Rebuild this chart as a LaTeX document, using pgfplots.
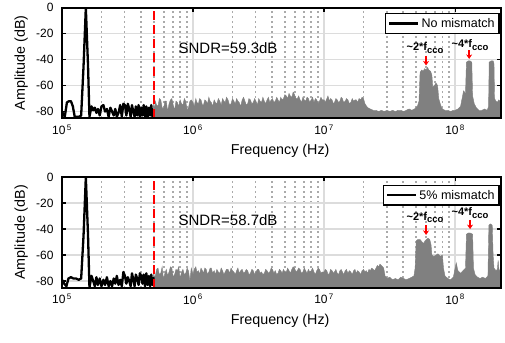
\documentclass[border=0pt]{standalone}
\usepackage{pgfplots}
\pgfplotsset{compat=1.18}
\usepackage{fontspec}
\setmainfont{Liberation Sans}
\usetikzlibrary{arrows.meta}
\definecolor{gridmaj}{RGB}{220,220,220}
\definecolor{gridmin}{RGB}{170,170,170}
\definecolor{areagray}{RGB}{128,128,128}
\newcommand{\fcco}[1]{\textasciitilde#1*f\raisebox{-0.45ex}{\fontsize{9.5}{10}\selectfont cco}}
\begin{document}
\begin{tikzpicture}
% ---------------- top: no mismatch ----------------
\begin{axis}[at={(62pt,224pt)}, anchor=south west,
    scale only axis, width=439pt, height=110.5pt,
    xmode=log, xmin=1e5, xmax=2.24e8,
    ymin=-85, ymax=0,
    xtick={1e5,1e6,1e7,1e8},
    xticklabels={10\textsuperscript{\,5},10\textsuperscript{\,6},10\textsuperscript{\,7},10\textsuperscript{\,8}},
    ytick={-80,-60,-40,-20,0},
    yticklabels={-80,-60,-40,-20,0},
    tick align=inside, tick pos=both,
    major tick length=4pt, minor tick length=0pt,
    tick style={black, line width=1.2pt},
    axis line style={black, line width=2pt},
    xmajorgrids, ymajorgrids, xminorgrids,
    major grid style={gridmaj, line width=1.6pt},
    minor grid style={gridmin, line width=1.8pt, dash pattern=on 1.8pt off 3.2pt},
    tick label style={font=\fontsize{12}{13}\selectfont},
    yticklabel style={xshift=-5pt},
    xticklabel style={yshift=-3pt},
    xlabel={Frequency (Hz)}, ylabel={Amplitude (dB)},
    label style={font=\fontsize{14.3}{16}\selectfont},
    xlabel style={at={(axis description cs:0.497,-0.297)}, anchor=center},
    ylabel style={at={(axis description cs:-0.093,0.5)}, anchor=center},
    legend style={at={(rel axis cs:0.997,0.95)}, anchor=north east, draw=black, line width=1.4pt,
      font=\fontsize{12.5}{14}\selectfont, inner sep=2.5pt},
    legend image code/.code={\draw[black, line width=2.4pt] (0pt,0pt) -- (29pt,0pt);},
    after end axis/.code={\draw[black, line width=2pt] (rel axis cs:0,0) rectangle (rel axis cs:1,1);},
  ]
\addplot[draw=areagray, line width=0.4pt, fill=areagray, forget plot] coordinates {
(5.00e5,-85) (5.00e5,-74) (5.07e5,-79) (5.15e5,-72) (5.27e5,-75) (5.40e5,-76) (5.53e5,-70) (5.67e5,-71) (5.81e5,-77) (5.95e5,-78) (6.10e5,-72) (6.25e5,-72) (6.40e5,-80) (6.56e5,-74) (6.72e5,-71) (6.89e5,-70) (7.06e5,-75) (7.23e5,-79) (7.41e5,-72) (7.59e5,-73) (7.78e5,-76) (7.97e5,-71) (8.17e5,-74) (8.37e5,-75) (8.58e5,-70) (8.79e5,-72) (9.01e5,-79) (9.23e5,-77) (9.46e5,-72) (9.69e5,-71)
(1.00e6,-73) (1.02e6,-76) (1.05e6,-70) (1.07e6,-73) (1.10e6,-74) (1.12e6,-70) (1.15e6,-71) (1.18e6,-75) (1.20e6,-75) (1.23e6,-71) (1.26e6,-72) (1.29e6,-74) (1.32e6,-69) (1.35e6,-72) (1.38e6,-73) (1.41e6,-76) (1.45e6,-71) (1.48e6,-73) (1.52e6,-74) (1.56e6,-70) (1.60e6,-72) (1.64e6,-75) (1.68e6,-70) (1.72e6,-72) (1.76e6,-73) (1.80e6,-69) (1.85e6,-71) (1.90e6,-75) (1.95e6,-74) (2.00e6,-70) (2.05e6,-72) (2.10e6,-74) (2.15e6,-70) (2.20e6,-72) (2.25e6,-73) (2.31e6,-76) (2.37e6,-71) (2.43e6,-69) (2.49e6,-72) (2.55e6,-75) (2.61e6,-74) (2.67e6,-70) (2.74e6,-71) (2.81e6,-74) (2.88e6,-73) (2.95e6,-70) (3.02e6,-72) (3.10e6,-75) (3.17e6,-70) (3.25e6,-72) (3.33e6,-73) (3.41e6,-69) (3.50e6,-72) (3.58e6,-74) (3.67e6,-71) (3.76e6,-69) (3.85e6,-73) (3.95e6,-71) (4.04e6,-70) (4.14e6,-73) (4.24e6,-72) (4.35e6,-69) (4.45e6,-71) (4.56e6,-73) (4.67e6,-69) (4.78e6,-71) (4.90e6,-70) (5.02e6,-67) (5.15e6,-68) (5.27e6,-70) (5.40e6,-66) (5.53e6,-68) (5.67e6,-69) (5.81e6,-65) (5.95e6,-67) (6.10e6,-70) (6.25e6,-70) (6.40e6,-68) (6.56e6,-71) (6.72e6,-73) (6.89e6,-69) (7.06e6,-71) (7.23e6,-72) (7.41e6,-69) (7.59e6,-70) (7.78e6,-73) (7.97e6,-71) (8.17e6,-69) (8.37e6,-73) (8.58e6,-70) (8.79e6,-71) (9.01e6,-74) (9.23e6,-72) (9.46e6,-69) (9.69e6,-71)
(1.00e7,-71) (1.02e7,-73) (1.05e7,-70) (1.07e7,-68) (1.10e7,-72) (1.12e7,-70) (1.15e7,-71) (1.18e7,-74) (1.20e7,-73) (1.23e7,-70) (1.26e7,-71) (1.29e7,-73) (1.32e7,-72) (1.35e7,-69) (1.38e7,-70) (1.41e7,-73) (1.45e7,-72) (1.48e7,-70) (1.52e7,-71) (1.56e7,-74) (1.60e7,-73) (1.64e7,-70) (1.68e7,-72) (1.72e7,-71) (1.76e7,-71) (1.80e7,-73) (1.85e7,-70) (1.90e7,-71) (1.95e7,-69) (2.00e7,-70) (2.05e7,-74) (2.15e7,-77) (2.25e7,-78) (2.37e7,-79) (2.49e7,-79) (2.61e7,-80) (2.74e7,-79) (2.88e7,-80) (3.02e7,-79) (3.17e7,-80) (3.33e7,-79) (3.50e7,-80) (3.67e7,-79) (3.85e7,-79) (4.04e7,-80) (4.24e7,-79) (4.45e7,-78) (4.67e7,-79) (4.90e7,-78) (5.15e7,-76) (5.30e7,-72)
(5.40e7,-50) (5.55e7,-48) (5.70e7,-49) (5.85e7,-47) (6.00e7,-48) (6.15e7,-46) (6.30e7,-48) (6.50e7,-49) (6.65e7,-52) (6.75e7,-61) (6.95e7,-60) (7.15e7,-58) (7.35e7,-60) (7.50e7,-70) (7.75e7,-75) (8.00e7,-78) (8.37e7,-79) (8.79e7,-79) (9.23e7,-80) (9.69e7,-79)
(1.00e8,-79) (1.05e8,-78) (1.10e8,-76) (1.13e8,-70) (1.16e8,-64) (1.20e8,-66) (1.22e8,-42) (1.26e8,-41) (1.30e8,-41) (1.34e8,-42) (1.36e8,-68) (1.40e8,-74) (1.45e8,-77) (1.52e8,-79) (1.60e8,-79) (1.68e8,-78) (1.76e8,-79) (1.80e8,-76) (1.82e8,-42) (1.88e8,-41) (1.95e8,-41) (1.98e8,-43) (2.00e8,-70) (2.05e8,-72) (2.10e8,-73) (2.15e8,-71) (2.20e8,-72) (2.24e8,-72) (2.24e8,-85)
};
\addplot[black, line width=2.3pt, line join=round] coordinates {
(1.00e5,-80) (1.05e5,-84) (1.09e5,-73) (1.13e5,-72) (1.17e5,-72) (1.21e5,-76) (1.25e5,-84) (1.30e5,-84) (1.35e5,-84) (1.40e5,-83) (1.46e5,-45) (1.52e5,0) (1.58e5,-45) (1.62e5,-84) (1.68e5,-76) (1.73e5,-79) (1.78e5,-77) (1.83e5,-81) (1.88e5,-78) (1.94e5,-83) (2.00e5,-76) (2.07e5,-75) (2.13e5,-80) (2.20e5,-78) (2.27e5,-84) (2.34e5,-77) (2.41e5,-80) (2.48e5,-83) (2.55e5,-78) (2.62e5,-84) (2.70e5,-81) (2.78e5,-75) (2.86e5,-84) (2.94e5,-74) (3.02e5,-75) (3.10e5,-83) (3.18e5,-74) (3.26e5,-78) (3.34e5,-84) (3.42e5,-75) (3.50e5,-80) (3.58e5,-84) (3.66e5,-76) (3.75e5,-83) (3.84e5,-75) (3.93e5,-84) (4.02e5,-77) (4.11e5,-83) (4.20e5,-75) (4.30e5,-84) (4.40e5,-76) (4.50e5,-84) (4.60e5,-77) (4.70e5,-83) (4.80e5,-75) (4.90e5,-84) (5.00e5,-78)
};
\addlegendentry{No mismatch}
\addplot[red, line width=2pt, dash pattern=on 9pt off 5pt, forget plot] coordinates {(5e5,-85) (5e5,0)};
\node[anchor=west, font=\fontsize{15}{17}\selectfont] at (axis cs:7.3e5,-31) {SNDR=59.3dB};
\node[font=\bfseries\fontsize{11}{12}\selectfont] at (axis cs:5.9e7,-31) {\fcco{2}};
\node[font=\bfseries\fontsize{11}{12}\selectfont] at (axis cs:1.30e8,-29) {\fcco{4}};
\draw[red, line width=1.4pt, -{Stealth[length=4.5pt,width=6pt]}] (axis cs:6.0e7,-37) -- (axis cs:6.0e7,-44.5);
\draw[red, line width=1.4pt, -{Stealth[length=4.5pt,width=6pt]}] (axis cs:1.28e8,-33) -- (axis cs:1.28e8,-39.5);
\end{axis}
% ---------------- bottom: 5% mismatch ----------------
\begin{axis}[at={(62pt,54.5pt)}, anchor=south west,
    scale only axis, width=439pt, height=110.5pt,
    xmode=log, xmin=1e5, xmax=2.24e8,
    ymin=-85, ymax=0,
    xtick={1e5,1e6,1e7,1e8},
    xticklabels={10\textsuperscript{\,5},10\textsuperscript{\,6},10\textsuperscript{\,7},10\textsuperscript{\,8}},
    ytick={-80,-60,-40,-20,0},
    yticklabels={-80,-60,-40,-20,0},
    tick align=inside, tick pos=both,
    major tick length=4pt, minor tick length=0pt,
    tick style={black, line width=1.2pt},
    axis line style={black, line width=2pt},
    xmajorgrids, ymajorgrids, xminorgrids,
    major grid style={gridmaj, line width=1.6pt},
    minor grid style={gridmin, line width=1.8pt, dash pattern=on 1.8pt off 3.2pt},
    tick label style={font=\fontsize{12}{13}\selectfont},
    yticklabel style={xshift=-5pt},
    xticklabel style={yshift=-3pt},
    xlabel={Frequency (Hz)}, ylabel={Amplitude (dB)},
    label style={font=\fontsize{14.3}{16}\selectfont},
    xlabel style={at={(axis description cs:0.497,-0.297)}, anchor=center},
    ylabel style={at={(axis description cs:-0.093,0.5)}, anchor=center},
    legend style={at={(rel axis cs:0.997,0.93)}, anchor=north east, draw=black, line width=1.4pt,
      font=\fontsize{12.5}{14}\selectfont, inner sep=2.5pt},
    legend image code/.code={\draw[black, line width=2.4pt] (0pt,0pt) -- (29pt,0pt);},
    after end axis/.code={\draw[black, line width=2pt] (rel axis cs:0,0) rectangle (rel axis cs:1,1);},
  ]
\addplot[draw=areagray, line width=0.4pt, fill=areagray, forget plot] coordinates {
(5.00e5,-85) (5.00e5,-72) (5.07e5,-77) (5.15e5,-76) (5.27e5,-71) (5.40e5,-70) (5.53e5,-75) (5.67e5,-74) (5.81e5,-69) (5.95e5,-79) (6.10e5,-74) (6.25e5,-71) (6.40e5,-76) (6.56e5,-73) (6.72e5,-69) (6.89e5,-70) (7.06e5,-77) (7.23e5,-75) (7.41e5,-71) (7.59e5,-72) (7.78e5,-69) (7.97e5,-78) (8.17e5,-73) (8.37e5,-71) (8.58e5,-75) (8.79e5,-74) (9.01e5,-70) (9.23e5,-72) (9.46e5,-80) (9.69e5,-70)
(1.00e6,-75) (1.02e6,-71) (1.05e6,-69) (1.07e6,-73) (1.10e6,-72) (1.12e6,-75) (1.15e6,-70) (1.18e6,-72) (1.20e6,-74) (1.23e6,-70) (1.26e6,-71) (1.29e6,-75) (1.32e6,-73) (1.35e6,-70) (1.38e6,-70) (1.41e6,-74) (1.45e6,-72) (1.48e6,-75) (1.52e6,-71) (1.56e6,-73) (1.60e6,-74) (1.64e6,-70) (1.68e6,-72) (1.72e6,-75) (1.76e6,-73) (1.80e6,-71) (1.85e6,-71) (1.90e6,-74) (1.95e6,-70) (2.00e6,-72) (2.05e6,-73) (2.10e6,-75) (2.15e6,-72) (2.20e6,-70) (2.25e6,-74) (2.31e6,-72) (2.37e6,-71) (2.43e6,-74) (2.49e6,-73) (2.55e6,-71) (2.61e6,-72) (2.67e6,-75) (2.74e6,-74) (2.81e6,-71) (2.88e6,-72) (2.95e6,-75) (3.02e6,-73) (3.10e6,-71) (3.17e6,-71) (3.25e6,-74) (3.33e6,-73) (3.41e6,-75) (3.50e6,-74) (3.58e6,-71) (3.67e6,-72) (3.76e6,-74) (3.85e6,-73) (3.95e6,-70) (4.04e6,-71) (4.14e6,-74) (4.24e6,-72) (4.35e6,-75) (4.45e6,-74) (4.56e6,-71) (4.67e6,-72) (4.78e6,-74) (4.90e6,-71) (5.02e6,-73) (5.15e6,-73) (5.27e6,-70) (5.40e6,-72) (5.53e6,-74) (5.67e6,-71) (5.81e6,-69) (5.95e6,-70) (6.10e6,-73) (6.25e6,-72) (6.40e6,-70) (6.56e6,-71) (6.72e6,-74) (6.89e6,-73) (7.06e6,-70) (7.23e6,-72) (7.41e6,-74) (7.59e6,-71) (7.78e6,-73) (7.97e6,-72) (8.17e6,-70) (8.37e6,-73) (8.58e6,-75) (8.79e6,-72) (9.01e6,-70) (9.23e6,-71) (9.46e6,-74) (9.69e6,-73)
(1.00e7,-73) (1.02e7,-71) (1.05e7,-72) (1.07e7,-75) (1.10e7,-74) (1.12e7,-71) (1.15e7,-72) (1.18e7,-74) (1.20e7,-73) (1.23e7,-71) (1.26e7,-74) (1.29e7,-75) (1.32e7,-72) (1.35e7,-71) (1.38e7,-73) (1.41e7,-75) (1.45e7,-72) (1.48e7,-71) (1.52e7,-74) (1.56e7,-72) (1.60e7,-73) (1.64e7,-75) (1.68e7,-72) (1.72e7,-71) (1.76e7,-74) (1.80e7,-72) (1.85e7,-73) (1.90e7,-75) (1.95e7,-72) (2.00e7,-71) (2.05e7,-73) (2.10e7,-72) (2.15e7,-74) (2.20e7,-71) (2.25e7,-72) (2.31e7,-70) (2.37e7,-71) (2.43e7,-72) (2.49e7,-70) (2.55e7,-68) (2.61e7,-69) (2.67e7,-67) (2.74e7,-68) (2.80e7,-69) (2.85e7,-70) (2.92e7,-76) (3.02e7,-78) (3.17e7,-77) (3.33e7,-79) (3.50e7,-78) (3.67e7,-79) (3.85e7,-77) (4.04e7,-78) (4.24e7,-79) (4.45e7,-78) (4.67e7,-77) (4.85e7,-76) (4.95e7,-70)
(5.05e7,-49) (5.20e7,-48) (5.40e7,-48) (5.60e7,-50) (5.75e7,-51) (5.90e7,-49) (6.05e7,-48) (6.20e7,-47) (6.40e7,-48) (6.55e7,-52) (6.65e7,-60) (6.89e7,-61) (7.15e7,-60) (7.40e7,-59) (7.70e7,-61) (8.00e7,-60) (8.15e7,-70) (8.37e7,-76) (8.79e7,-78) (9.23e7,-79) (9.69e7,-77)
(1.00e8,-70) (1.02e8,-66) (1.05e8,-72) (1.10e8,-74) (1.15e8,-72) (1.20e8,-70) (1.22e8,-44) (1.26e8,-43) (1.30e8,-43) (1.36e8,-44) (1.38e8,-70) (1.42e8,-75) (1.48e8,-77) (1.55e8,-78) (1.62e8,-77) (1.70e8,-78) (1.78e8,-76) (1.81e8,-37) (1.86e8,-36) (1.92e8,-37) (1.95e8,-60) (1.98e8,-70) (2.05e8,-72) (2.10e8,-71) (2.13e8,-64) (2.16e8,-71) (2.20e8,-72) (2.24e8,-72) (2.24e8,-85)
};
\addplot[black, line width=2.3pt, line join=round] coordinates {
(1.00e5,-79) (1.04e5,-82) (1.08e5,-84) (1.12e5,-78) (1.17e5,-77) (1.22e5,-78) (1.28e5,-78) (1.34e5,-79) (1.40e5,-78) (1.46e5,-45) (1.52e5,0) (1.58e5,-45) (1.62e5,-85) (1.68e5,-76) (1.73e5,-80) (1.78e5,-84) (1.83e5,-77) (1.88e5,-83) (1.94e5,-78) (2.00e5,-84) (2.07e5,-79) (2.13e5,-83) (2.20e5,-77) (2.27e5,-84) (2.34e5,-80) (2.41e5,-84) (2.48e5,-78) (2.55e5,-82) (2.62e5,-76) (2.70e5,-83) (2.78e5,-79) (2.86e5,-84) (2.94e5,-73) (3.02e5,-76) (3.10e5,-82) (3.18e5,-77) (3.26e5,-80) (3.34e5,-84) (3.42e5,-74) (3.50e5,-79) (3.58e5,-84) (3.66e5,-75) (3.75e5,-78) (3.84e5,-83) (3.93e5,-74) (4.02e5,-76) (4.11e5,-82) (4.20e5,-75) (4.30e5,-84) (4.40e5,-74) (4.50e5,-83) (4.60e5,-76) (4.70e5,-84) (4.80e5,-75) (4.90e5,-83) (5.00e5,-77)
};
\addlegendentry{5\% mismatch}
\addplot[red, line width=2pt, dash pattern=on 9pt off 5pt, forget plot] coordinates {(5e5,-85) (5e5,0)};
\node[anchor=west, font=\fontsize{15}{17}\selectfont] at (axis cs:7.3e5,-33) {SNDR=58.7dB};
\node[font=\bfseries\fontsize{11}{12}\selectfont] at (axis cs:5.9e7,-31) {\fcco{2}};
\node[font=\bfseries\fontsize{11}{12}\selectfont] at (axis cs:1.30e8,-27.5) {\fcco{4}};
\draw[red, line width=1.4pt, -{Stealth[length=4.5pt,width=6pt]}] (axis cs:6.0e7,-37) -- (axis cs:6.0e7,-44.5);
\draw[red, line width=1.4pt, -{Stealth[length=4.5pt,width=6pt]}] (axis cs:1.30e8,-33) -- (axis cs:1.30e8,-40);
\end{axis}
\path (0,0) rectangle (505pt,339pt);
\end{tikzpicture}
\end{document}
